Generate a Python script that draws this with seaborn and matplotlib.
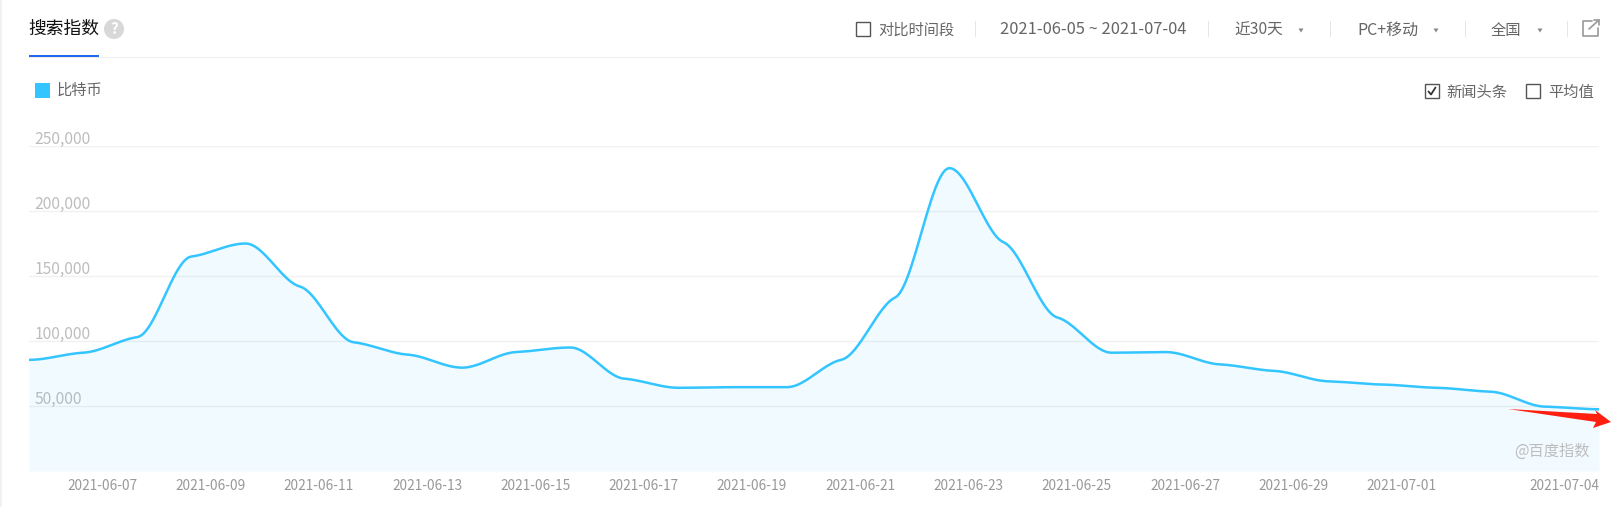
import numpy as np
import pandas as pd
import matplotlib
matplotlib.use("Agg")
import matplotlib.pyplot as plt
from matplotlib.patches import Rectangle, Polygon, Circle
from matplotlib.transforms import ScaledTranslation
import seaborn as sns

# ---- data ----
dates = pd.date_range("2021-06-05", "2021-07-04", freq="D")
search_index = [85500, 91000, 103000, 165000, 175000, 142000, 99000, 89500, 79500, 91500,
                95000, 71000, 64000, 64500, 64500, 85500, 133500, 233000, 176000, 118000,
                91000, 91500, 82000, 77000, 69000, 66500, 64000, 61000, 49500, 47500]
series_name = "比特币"
y_ticks = [50000, 100000, 150000, 200000, 250000]
y_labels = ["50,000", "100,000", "150,000", "200,000", "250,000"]
x_labels = ["2021-06-07", "2021-06-09", "2021-06-11", "2021-06-13", "2021-06-15", "2021-06-17",
            "2021-06-19", "2021-06-21", "2021-06-23", "2021-06-25", "2021-06-27", "2021-06-29",
            "2021-07-01", "2021-07-04"]
title = "搜索指数"
date_range = "2021-06-05 ~ 2021-07-04"

sns.set_theme(style="white")
plt.rcParams["font.family"] = ["Noto Sans CJK SC", "DejaVu Sans"]

W, H = 1621, 507
fig = plt.figure(figsize=(W / 100, H / 100), dpi=100, facecolor="white")
L, R, T, B = 29, 1599, 146, 471
ax = fig.add_axes([L / W, 1 - B / H, (R - L) / W, (B - T) / H])

# Rendering only: spline through the daily values with near-flat tangents at each day
def smooth(y, n=24, s=0.3):
    y = np.asarray(y, float)
    d = np.diff(y)
    m = np.zeros_like(y)
    prod = d[:-1] * d[1:]
    ok = prod > 0
    m[1:-1][ok] = s * 2 * prod[ok] / (d[:-1][ok] + d[1:][ok])
    t = np.linspace(0, 1, n, endpoint=False)[None, :]
    p0, p1, m0, m1 = y[:-1, None], y[1:, None], m[:-1, None], m[1:, None]
    v = ((2*t**3 - 3*t**2 + 1)*p0 + (t**3 - 2*t**2 + t)*m0
         + (-2*t**3 + 3*t**2)*p1 + (t**3 - t**2)*m1)
    return np.r_[v.ravel(), y[-1]]

vals = smooth(search_index)
xs = pd.date_range(dates[0], dates[-1], periods=len(vals))
df = pd.DataFrame({"date": xs, "value": vals})

ax.fill_between(df["date"], df["value"], 0, color="#33c5ff", alpha=0.07, lw=0, zorder=2)
sns.lineplot(data=df, x="date", y="value", ax=ax, color="#33c5ff", lw=1.8, zorder=3)

ax.set_xlim(dates[0], dates[-1])
ax.set_ylim(0, 250000)
ax.set_xlabel("")
ax.set_ylabel("")
for sp in ax.spines.values():
    sp.set_visible(False)
ax.set_yticks(y_ticks)
ax.set_yticklabels(y_labels)
ax.yaxis.grid(True, color="#f1f1f1", lw=1)
ax.xaxis.grid(False)
ax.set_axisbelow(True)
ax.tick_params(axis="y", length=0, pad=-4, labelsize=11.3, labelcolor="#bdbdbd")
shift = ScaledTranslation(0, -1.5 / 100, fig.dpi_scale_trans)
for lb in ax.get_yticklabels():
    lb.set_ha("left")
    lb.set_va("bottom")
    lb.set_transform(lb.get_transform() + shift)
ax.set_xticks(pd.to_datetime(x_labels))
ax.set_xticklabels(x_labels)
ax.tick_params(axis="x", length=2.5, width=0.8, direction="in", color="white", pad=6,
               labelsize=9.85, labelcolor="#999999")
for lb in ax.get_xticklabels():
    lb.set_ha("right")
ax.patch.set_alpha(0)

# ---- page chrome, in pixel coordinates ----
ui = fig.add_axes([0, 0, 1, 1], zorder=5)
ui.set_xlim(0, W)
ui.set_ylim(H, 0)
ui.axis("off")
ui.patch.set_alpha(0)

def txt(x, y, s, size=11, color="#666666", ha="left", **kw):
    ui.text(x, y, s, fontsize=size, color=color, ha=ha, va="center", **kw)

def box(x0, y0, x1, y1, **kw):
    ui.add_patch(Rectangle((x0, y0), x1 - x0, y1 - y0, **kw))

def check(x, y, tick=False):
    box(x, y, x + 14, y + 14, fc="white", ec="#555555", lw=1)
    if tick:
        ui.plot([x + 3.5, x + 6, x + 10.5], [y + 7.5, y + 10.5, y + 3.5], color="#333333", lw=1.3)

def tri(x, y=30):
    ui.add_patch(Polygon([(x - 2.5, y - 1.5), (x + 2.5, y - 1.5), (x, y + 2.5)], fc="#888888", ec="none"))

box(0, 0, 1.5, H, fc="#f2f2f2", ec="none")
txt(28.5, 29, title, size=12.8, color="#111111")
ui.add_patch(Circle((114, 29), 10, fc="#d8d8d8", ec="none"))
txt(114, 29, "?", size=11, color="white", ha="center", fontweight="bold")
box(29, 57, 1600, 58, fc="#eeeeee", ec="none")
box(29, 55, 99, 57, fc="#2468f2", ec="none")

check(856, 22)
txt(878, 30, "对比时间段")
for sx in [975, 1208, 1330, 1465, 1567]:
    box(sx, 21, sx + 1, 37, fc="#e6e6e6", ec="none")
txt(1000, 30, date_range, size=11.9)
txt(1234, 30, "近30天", size=11.3)
tri(1301)
txt(1357, 30, "PC+移动", size=11.5)
tri(1436)
txt(1491, 30, "全国")
tri(1540, 30)

# share icon
ui.plot([1592, 1583, 1583, 1598, 1598], [21, 21, 36, 36, 28], color="#999999", lw=1.2)
ui.plot([1589, 1599], [29, 20], color="#999999", lw=1.2)
ui.plot([1594, 1599, 1599], [20, 20, 25], color="#999999", lw=1.2)

box(35, 83, 50, 98, fc="#33c5ff", ec="none")
txt(57, 90, series_name)
check(1425, 84, tick=True)
txt(1446, 92, "新闻头条")
check(1526, 84)
txt(1548, 92, "平均值")

txt(1514, 451, "@百度指数", color="#bdbdbd")

ui.add_patch(Polygon([(1508, 409), (1597, 414), (1595, 410), (1611, 422), (1593, 428), (1596, 422)],
                     fc="#ff1f10", ec="none"))

fig.savefig("out.png", dpi=100)
